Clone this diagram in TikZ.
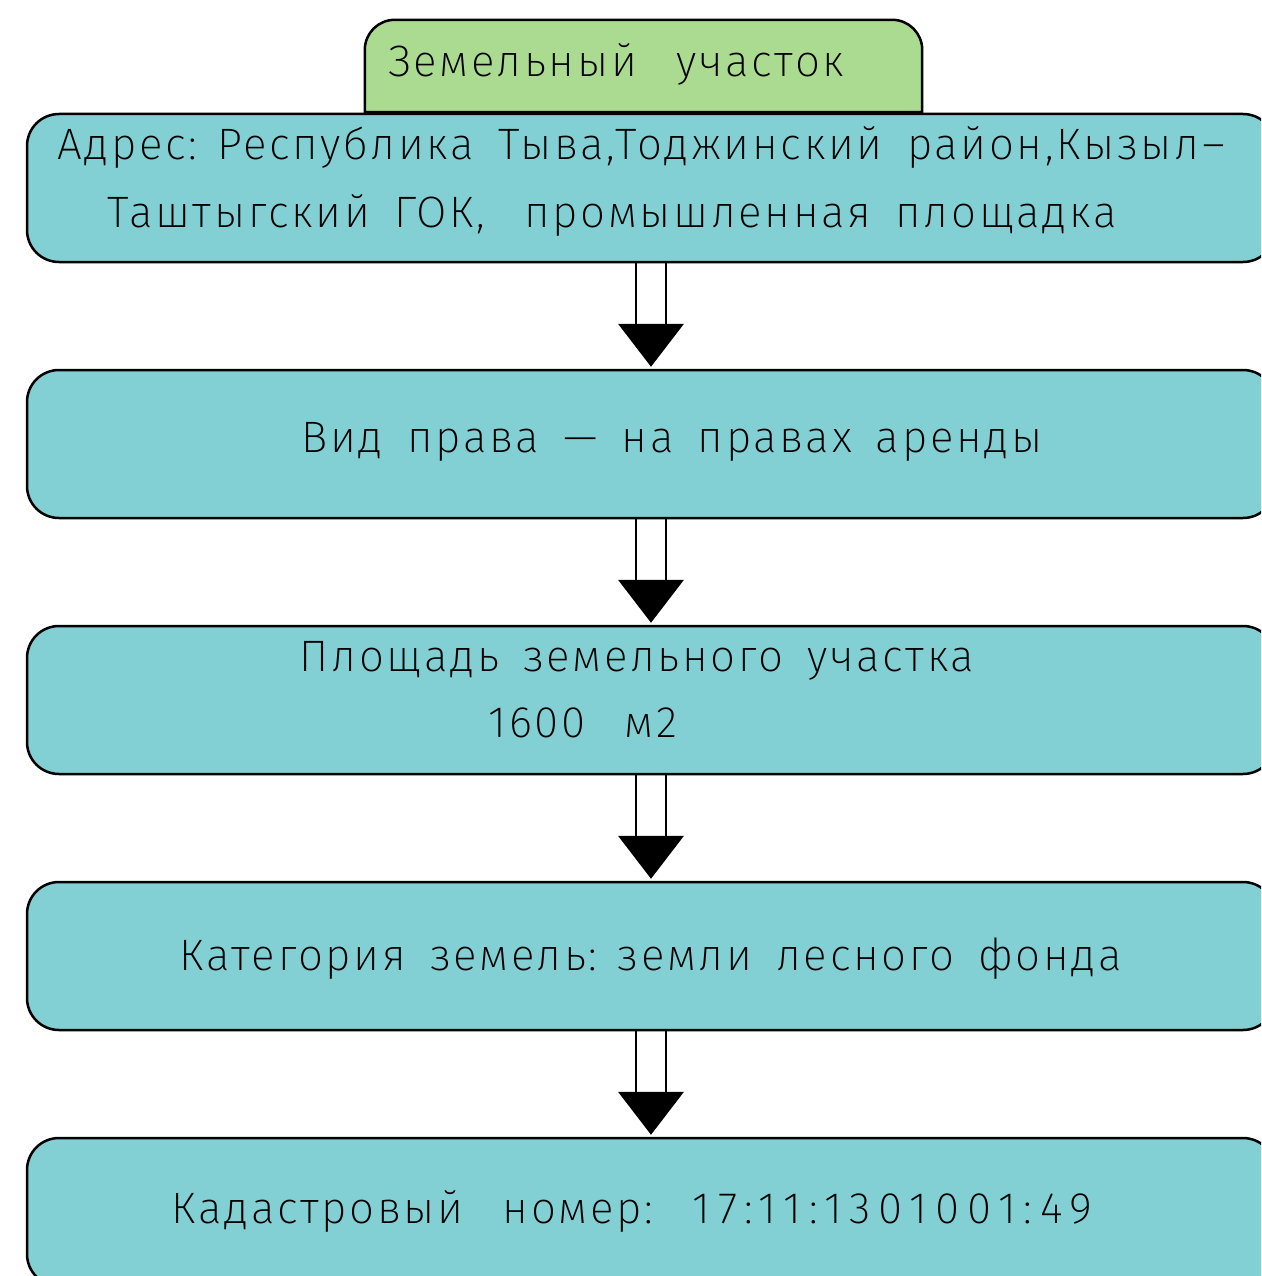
\documentclass[tikz,border=0pt]{standalone}
\usepackage{fontspec}
\IfFontExistsTF{Fira Sans ExtraLight}
  {\setmainfont{Fira Sans ExtraLight}[LetterSpace=6]}
  {\IfFontExistsTF{Fira Sans Light}{\setmainfont{Fira Sans Light}[LetterSpace=6]}{\setmainfont{Fira Sans}[LetterSpace=6]}}
\usetikzlibrary{calc}
\definecolor{boxcyan}{RGB}{130,207,212}
\definecolor{titlegreen}{RGB}{171,218,145}
\newcommand{\wsp}{\hspace{0.55em}}
\newcommand{\widedigits}[1]{{\addfontfeature{LetterSpace=18}#1}}
\tikzset{
  x=1pt, y=-1pt,
  infobox/.style={draw=black, line width=2.5pt, fill=boxcyan, rounded corners=32pt,
    minimum width=1248pt, minimum height=148pt, inner sep=0pt},
  label text/.style={anchor=base, inner sep=0pt, font=\fontsize{44}{50}\selectfont},
  shaft/.style={line width=2pt},
  head/.style={fill=black, draw=none},
}
\begin{document}
\begin{tikzpicture}
\useasboundingbox (0,0) rectangle (1261,1276);
\clip (0,0) rectangle (1261,1276);

% title tab, rounded on top only
\node[minimum width=557pt, minimum height=92pt, inner sep=0pt] (title) at (643.5,66) {};
\draw[line width=2.5pt, fill=titlegreen]
  (title.south west) [rounded corners=30pt] -- (title.north west) -- (title.north east)
  [sharp corners] -- (title.south east) -- cycle;
\node[label text, anchor=base west] (titletext) at (388,77) {Земельный\wsp\ участок};

% information boxes
\node[infobox] (b1) at (651,188) {};
\node[infobox] (b2) at (651,444) {};
\node[infobox] (b3) at (651,700) {};
\node[infobox] (b4) at (651,956) {};
\node[infobox] (b5) at (651,1212) {};

\node[label text] (t1a) at (641,160) {Адрес: Республика\wsp Тыва,Тоджинский\wsp район,Кызыл–};
\node[label text] (t1b) at (612,227) {Таштыгский\wsp ГОК,\wsp\ промышленная\wsp площадка};
\node[label text] (t2) at (672,452) {Вид\wsp права\wsp —\wsp на\wsp правах\wsp аренды};
\node[label text] (t3a) at (637,671) {Площадь\wsp земельного\wsp участка};
\node[label text] (t3b) at (583,737) {1600\wsp\ м2};
\node[label text] (t4) at (651,970) {Категория\wsp земель: земли\wsp лесного\wsp фонда};
\node[label text] (t5) at (632,1223) {Кадастровый\wsp\ номер:\wsp\ \widedigits{17:11:1301001:49}};

% hollow arrows between consecutive boxes
\foreach \a/\b in {b1/b2, b2/b3, b3/b4, b4/b5}{
  \draw[shaft] ($(\a.south)+(-15,0)$) -- ($(\b.north)+(-15,-45)$);
  \draw[shaft] ($(\a.south)+(15,0)$) -- ($(\b.north)+(15,-45)$);
  \fill[head] ($(\b.north)+(-33,-45)$) -- ($(\b.north)+(33,-45)$) -- ($(\b.north)+(0,-2)$) -- cycle;
}
\end{tikzpicture}
\end{document}
